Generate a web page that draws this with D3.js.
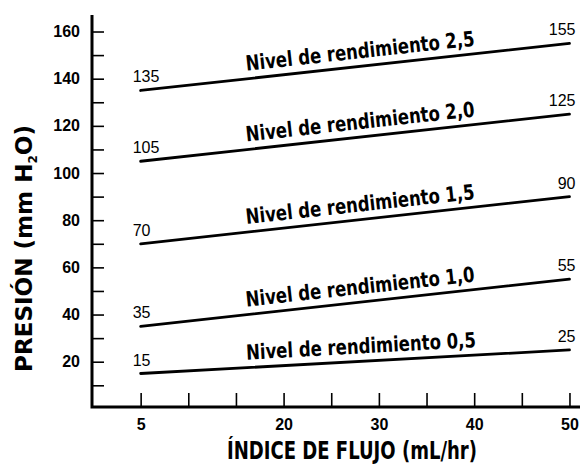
<!DOCTYPE html>
<html>
<head>
<meta charset="utf-8">
<script src="https://cdn.jsdelivr.net/npm/d3@7"></script>
<style>
    body { margin: 0; background: #fff; }
    .axis text { font-family: "Liberation Sans", Arial, sans-serif; font-weight: bold; font-size: 16px; fill: #000; }
    .axis line { stroke: #000; stroke-width: 1.6; }
    .cond { font-family: "Liberation Sans Narrow", "DejaVu Sans Condensed", sans-serif; font-weight: bold; fill: #000; }
    .end-label { font-family: "Liberation Sans", Arial, sans-serif; font-size: 16px; fill: #000; }
    .level-line { stroke: #000; stroke-width: 2.8; fill: none; stroke-linecap: round; }
</style>
</head>
<body>
<svg id="chart"></svg>
<script>

// Data ////////////////////////////////////

const levels = ["2,5", "2,0", "1,5", "1,0", "0,5"];
const flowRange = [5, 50];
const pressureAtStart = [135, 105, 70, 35, 15];
const pressureAtEnd = [155, 125, 90, 55, 25];

const xTicks = [5, 10, 15, 20, 25, 30, 35, 40, 45, 50];
const xTickLabels = [5, 20, 30, 40, 50];
const yTicks = [10, 20, 30, 40, 50, 60, 70, 80, 90, 100, 110, 120, 130, 140, 150, 160];
const yTickLabels = [20, 40, 60, 80, 100, 120, 140, 160];

// Layout ////////////////////////////////////

const dim = { width: 584, height: 467 };
const axisPos = { left: 92, bottom: 407, top: 15, right: 580 };

const x = d3.scaleLinear()
    .domain([0, 51])
    .range([93, 579]);

const y = d3.scaleLinear()
    .domain([0.8, 167])
    .range([axisPos.bottom, axisPos.top]);

const svg = d3.select("#chart")
    .attr("width", dim.width)
    .attr("height", dim.height);

// axes

const yAxis = d3.axisLeft(y)
    .tickValues(yTicks)
    .tickSize(-12)
    .tickPadding(12)
    .tickFormat(d => yTickLabels.includes(d) ? d : "");

svg.append("g")
    .attr("class", "axis y")
    .attr("transform", `translate(${ axisPos.left }, 0)`)
    .call(yAxis)
    .call(g => g.select(".domain").remove());

const xAxis = d3.axisBottom(x)
    .tickValues(xTicks)
    .tickSize(-14)
    .tickPadding(12)
    .tickFormat(d => xTickLabels.includes(d) ? d : "");

svg.append("g")
    .attr("class", "axis x")
    .attr("transform", `translate(0, ${ axisPos.bottom })`)
    .call(xAxis)
    .call(g => g.select(".domain").remove());

// axis lines
svg.append("path")
    .attr("d", `M${ axisPos.left },${ axisPos.top }V${ axisPos.bottom }H${ axisPos.right }`)
    .attr("fill", "none")
    .attr("stroke", "#000")
    .attr("stroke-width", 3);

// titles

svg.append("text")
    .attr("class", "cond")
    .attr("x", 352)
    .attr("y", 459)
    .attr("text-anchor", "middle")
    .attr("font-size", 24)
    .attr("textLength", 250)
    .attr("lengthAdjust", "spacingAndGlyphs")
    .text("ÍNDICE DE FLUJO (mL/hr)");

const yTitle = svg.append("text")
    .attr("class", "cond")
    .attr("transform", "translate(32, 372) rotate(-90)")
    .attr("font-size", 23)
    .attr("textLength", 247)
    .attr("lengthAdjust", "spacingAndGlyphs");
yTitle.append("tspan").text("PRESIÓN (mm H");
yTitle.append("tspan").attr("dy", 5).attr("font-size", 12).text("2");
yTitle.append("tspan").attr("dy", -5).text("O)");

// lines //////////////////////////////////////

const rows = levels.map((lvl, i) => ({
    level: lvl,
    start: pressureAtStart[i],
    end: pressureAtEnd[i]
}));

const g = svg.append("g");

g.selectAll("line")
    .data(rows)
    .join("line")
    .attr("class", "level-line")
    .attr("x1", x(flowRange[0]))
    .attr("x2", x(flowRange[1]))
    .attr("y1", d => y(d.start))
    .attr("y2", d => y(d.end));

g.selectAll(".start-label")
    .data(rows)
    .join("text")
    .attr("class", "end-label start-label")
    .attr("x", x(flowRange[0]) - 8)
    .attr("y", d => y(d.start) - 8)
    .text(d => d.start);

g.selectAll(".stop-label")
    .data(rows)
    .join("text")
    .attr("class", "end-label stop-label")
    .attr("text-anchor", "end")
    .attr("x", x(flowRange[1]) + 6)
    .attr("y", d => y(d.end) - 8)
    .text(d => d.end);

// level names, laid along each line
const midFlow = 28.2;
g.selectAll(".level-name")
    .data(rows)
    .join("text")
    .attr("class", "cond level-name")
    .attr("font-size", 21)
    .attr("text-anchor", "middle")
    .attr("textLength", 230)
    .attr("lengthAdjust", "spacingAndGlyphs")
    .attr("transform", d => {
        const t = (midFlow - flowRange[0]) / (flowRange[1] - flowRange[0]);
        const px = x(midFlow);
        const py = y(d.start + t * (d.end - d.start));
        const ang = Math.atan2(y(d.end) - y(d.start), x(flowRange[1]) - x(flowRange[0])) * 180 / Math.PI;
        return `translate(${ px }, ${ py }) rotate(${ ang }) translate(0, -8)`;
    })
    .text(d => `Nivel de rendimiento ${ d.level }`);

</script>
</body>
</html>
